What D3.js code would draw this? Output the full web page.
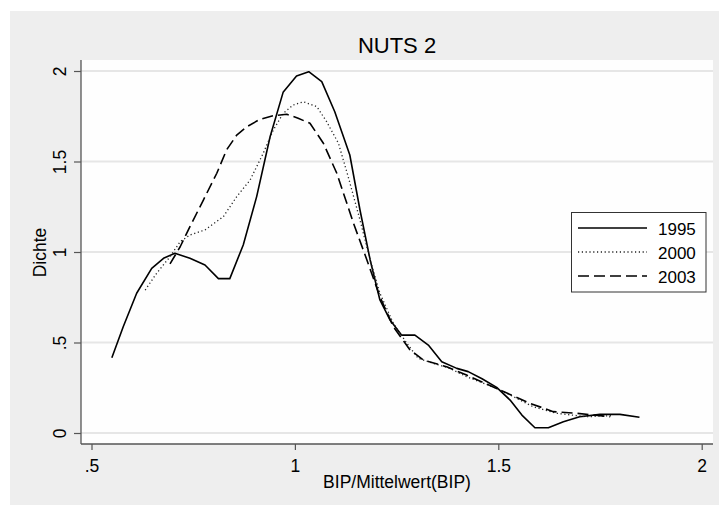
<!DOCTYPE html>
<html>
<head>
<meta charset="utf-8">
<script src="https://cdn.jsdelivr.net/npm/d3@7"></script>
<style>
  html, body { margin: 0; padding: 0; background: #ffffff; }
  svg { display: block; }
  text { font-family: Arial, "Liberation Sans", sans-serif; fill: #000; }
</style>
</head>
<body>
<svg id="chart" width="719" height="505"></svg>
<script>
// ---- data ----
const x1995 = [0.550,0.578,0.611,0.648,0.677,0.705,0.742,0.779,0.812,0.840,0.873,0.906,0.939,0.971,1.004,1.034,1.066,1.098,1.135,1.160,1.185,1.209,1.234,1.262,1.295,1.328,1.361,1.398,1.426,1.460,1.496,1.529,1.558,1.590,1.623,1.660,1.700,1.750,1.799,1.847];
const y1995 = [0.416,0.587,0.772,0.910,0.965,0.993,0.965,0.928,0.853,0.853,1.039,1.306,1.637,1.882,1.972,1.996,1.941,1.775,1.536,1.232,0.956,0.735,0.624,0.541,0.541,0.486,0.394,0.357,0.339,0.300,0.252,0.182,0.099,0.029,0.029,0.062,0.090,0.103,0.103,0.087];

const x2000 = [0.632,0.660,0.693,0.718,0.742,0.779,0.824,0.857,0.890,0.922,0.947,0.971,0.996,1.021,1.054,1.078,1.107,1.131,1.160,1.185,1.209,1.242,1.275,1.303,1.340,1.381,1.422,1.496,1.586,1.643,1.716,1.783];
const y2000 = [0.790,0.882,0.974,1.057,1.094,1.122,1.195,1.306,1.398,1.545,1.674,1.766,1.812,1.830,1.803,1.720,1.601,1.416,1.177,0.956,0.772,0.606,0.496,0.413,0.385,0.357,0.311,0.247,0.145,0.109,0.090,0.096];

const x2003 = [0.693,0.718,0.742,0.775,0.808,0.832,0.857,0.882,0.914,0.947,0.980,1.008,1.037,1.070,1.103,1.144,1.177,1.209,1.242,1.283,1.316,1.373,1.422,1.504,1.578,1.635,1.692,1.775];
const y2003 = [0.934,1.029,1.140,1.287,1.435,1.564,1.646,1.692,1.733,1.753,1.761,1.739,1.711,1.601,1.435,1.159,0.956,0.753,0.587,0.459,0.403,0.366,0.320,0.238,0.164,0.118,0.109,0.090];

const seriesNames = ["1995", "2000", "2003"];
const xTicks = [0.5, 1, 1.5, 2];
const xTickLabels = [".5", "1", "1.5", "2"];
const yTicks = [0, 0.5, 1, 1.5, 2];
const yTickLabels = ["0", ".5", "1", "1.5", "2"];
const titleText = "NUTS 2";
const xTitle = "BIP/Mittelwert(BIP)";
const yTitle = "Dichte";

// ---- layout ----
const svg = d3.select("#chart");
const plot = { left: 81, right: 713, top: 60, bottom: 444 };

svg.append("rect").attr("x", 10).attr("y", 11).attr("width", 709).attr("height", 494).attr("fill", "#eeeeee");
svg.append("rect").attr("x", plot.left).attr("y", plot.top)
   .attr("width", plot.right - plot.left).attr("height", plot.bottom - plot.top).attr("fill", "#fefefe");

const x = d3.scaleLinear().domain([0.5, 2]).range([91.5, 701.7]);
const y = d3.scaleLinear().domain([0, 2]).range([433, 71]);

// gridlines
svg.append("g").selectAll("line").data(yTicks).join("line")
  .attr("x1", plot.left).attr("x2", plot.right)
  .attr("y1", d => y(d)).attr("y2", d => y(d))
  .attr("stroke", "#e6e6e6").attr("stroke-width", 2);

// axes
const yAxis = d3.axisLeft(y).tickValues(yTicks).tickSize(7).tickSizeOuter(0)
  .tickFormat((d, i) => yTickLabels[i]);
const gy = svg.append("g").attr("transform", `translate(${plot.left},0)`).call(yAxis);
gy.select(".domain").attr("d", `M0,${plot.top}V${plot.bottom}`).attr("stroke", "#555").attr("stroke-width", 1.3);
gy.selectAll(".tick line").attr("stroke", "#555").attr("stroke-width", 1.2);
gy.selectAll(".tick text")
  .attr("x", null).attr("dy", null).attr("y", null)
  .attr("transform", "translate(-15,0) rotate(-90)")
  .attr("text-anchor", "middle")
  .style("font-size", "17.5px").style("font-family", "Arial, 'Liberation Sans', sans-serif").attr("fill", "#000");

const xAxis = d3.axisBottom(x).tickValues(xTicks).tickSize(6).tickSizeOuter(0)
  .tickFormat((d, i) => xTickLabels[i]);
const gx = svg.append("g").attr("transform", `translate(0,${plot.bottom})`).call(xAxis);
gx.select(".domain").attr("d", `M${plot.left},0H${plot.right}`).attr("stroke", "#555").attr("stroke-width", 1.3);
gx.selectAll(".tick line").attr("stroke", "#555").attr("stroke-width", 1.2);
gx.selectAll(".tick text").attr("y", 28).attr("dy", null)
  .style("font-size", "17.5px").style("font-family", "Arial, 'Liberation Sans', sans-serif").attr("fill", "#000");

// titles
svg.append("text").attr("x", 397).attr("y", 53).attr("text-anchor", "middle")
  .style("font-size", "22px").text(titleText);
svg.append("text").attr("x", 397).attr("y", 488).attr("text-anchor", "middle")
  .style("font-size", "17.5px").text(xTitle);
svg.append("text").attr("transform", "translate(46,252.5) rotate(-90)").attr("text-anchor", "middle")
  .style("font-size", "17.5px").text(yTitle);

// curves
const line = d3.line().x(d => x(d[0])).y(d => y(d[1]));
const styles = [
  { dash: null, width: 1.6, color: "#000" },
  { dash: "1.2,2.6", width: 1.3, color: "#222" },
  { dash: "11,5", width: 1.6, color: "#000" }
];
const data = [
  d3.zip(x1995, y1995),
  d3.zip(x2000, y2000),
  d3.zip(x2003, y2003)
];
data.forEach((pts, i) => {
  svg.append("path").datum(pts).attr("d", line)
    .attr("fill", "none").attr("stroke", styles[i].color)
    .attr("stroke-width", styles[i].width)
    .attr("stroke-dasharray", styles[i].dash)
    .attr("stroke-linejoin", "round");
});

// legend
const lg = svg.append("g");
lg.append("rect").attr("x", 571.5).attr("y", 212.5).attr("width", 134.5).attr("height", 79.5)
  .attr("fill", "#fff").attr("stroke", "#333").attr("stroke-width", 1);
seriesNames.forEach((name, i) => {
  const cy = 228 + i * 24;
  lg.append("line").attr("x1", 578).attr("x2", 647).attr("y1", cy).attr("y2", cy)
    .attr("stroke", styles[i].color).attr("stroke-width", styles[i].width)
    .attr("stroke-dasharray", styles[i].dash);
  lg.append("text").attr("x", 658).attr("y", cy + 6.5).style("font-size", "17px").text(name);
});
</script>
</body>
</html>
